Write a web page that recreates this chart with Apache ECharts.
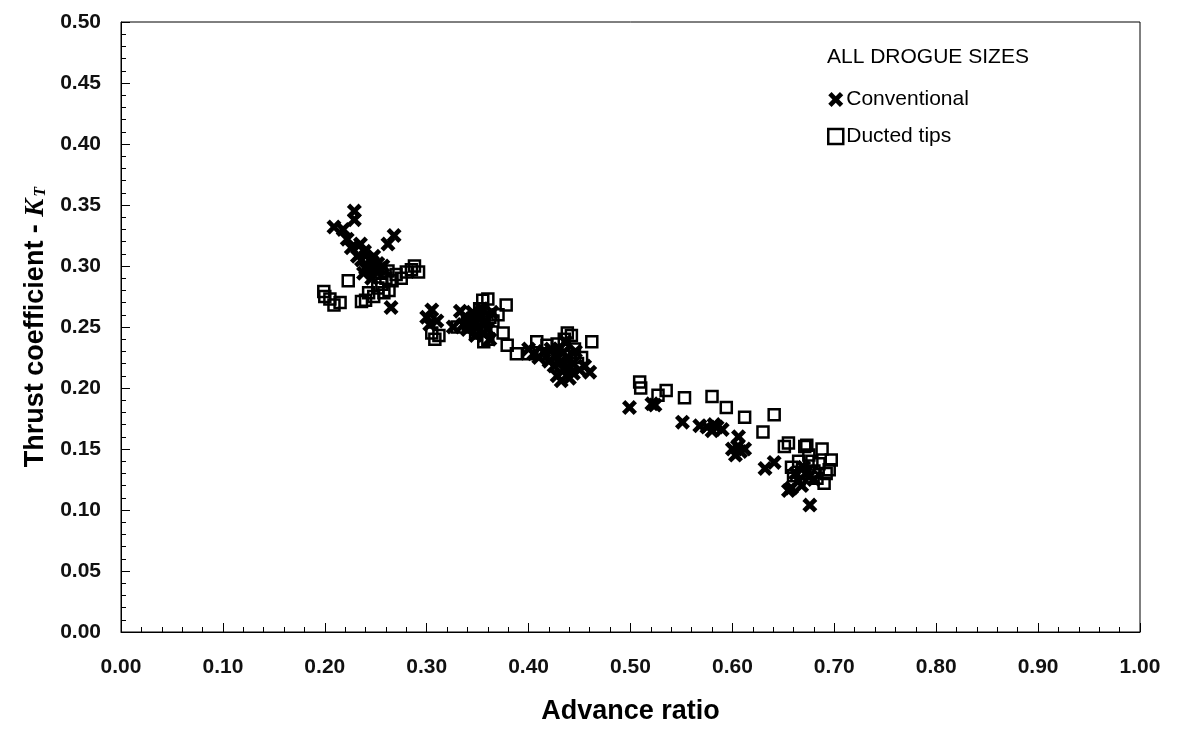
<!DOCTYPE html>
<html>
<head>
<meta charset="utf-8">
<script src="https://cdn.jsdelivr.net/npm/echarts@6/dist/echarts.min.js"></script>
<style>
html,body{margin:0;padding:0;background:#fff;}
#c{width:1184px;height:731px;}
</style>
</head>
<body>
<div id="c"></div>
<script>
// Data: [advance ratio, thrust coefficient]
const conventional = [
  [0.229,0.345],[0.229,0.338],[0.209,0.332],[0.218,0.330],[0.222,0.322],[0.226,0.315],
  [0.235,0.318],[0.239,0.312],[0.244,0.305],[0.248,0.308],[0.252,0.302],[0.257,0.300],
  [0.262,0.318],[0.268,0.325],[0.240,0.298],[0.236,0.305],[0.250,0.296],[0.265,0.266],
  [0.232,0.308],[0.246,0.290],[0.242,0.300],[0.247,0.303],[0.254,0.298],[0.238,0.294],
  [0.300,0.258],[0.305,0.264],[0.303,0.252],[0.310,0.255],[0.333,0.263],[0.338,0.258],
  [0.342,0.252],[0.347,0.255],[0.350,0.250],[0.352,0.260],[0.355,0.245],[0.358,0.255],
  [0.360,0.248],[0.345,0.262],[0.362,0.240],[0.326,0.250],[0.340,0.248],[0.348,0.243],
  [0.354,0.265],[0.357,0.252],[0.344,0.257],[0.336,0.252],[0.364,0.262],
  [0.400,0.232],[0.405,0.228],[0.410,0.225],[0.415,0.230],[0.420,0.222],[0.425,0.218],
  [0.428,0.210],[0.432,0.206],[0.435,0.215],[0.438,0.225],[0.440,0.208],[0.443,0.220],
  [0.446,0.230],[0.450,0.215],[0.455,0.218],[0.460,0.213],[0.430,0.232],[0.436,0.238],
  [0.426,0.226],[0.432,0.222],[0.438,0.217],[0.444,0.212],[0.422,0.232],[0.434,0.229],
  [0.499,0.184],[0.521,0.187],[0.524,0.186],[0.551,0.172],[0.568,0.169],[0.575,0.168],
  [0.580,0.165],[0.585,0.168],[0.590,0.166],[0.600,0.150],[0.603,0.145],[0.606,0.160],
  [0.608,0.148],[0.612,0.150],[0.632,0.134],[0.641,0.139],[0.655,0.116],[0.658,0.118],
  [0.665,0.124],[0.668,0.120],[0.672,0.130],[0.676,0.104],[0.680,0.125],[0.662,0.130],
  [0.582,0.170],[0.605,0.152],[0.670,0.135],[0.676,0.128]
];
const ductedTips = [
  [0.199,0.279],[0.200,0.275],[0.205,0.273],[0.209,0.268],[0.215,0.270],[0.223,0.288],
  [0.236,0.271],[0.240,0.272],[0.243,0.278],[0.248,0.275],[0.252,0.282],[0.256,0.285],
  [0.260,0.290],[0.263,0.280],[0.266,0.288],[0.270,0.293],[0.275,0.290],[0.280,0.295],
  [0.285,0.297],[0.288,0.300],[0.292,0.295],[0.255,0.295],[0.262,0.296],[0.258,0.278],
  [0.305,0.245],[0.308,0.240],[0.312,0.243],[0.330,0.250],[0.340,0.255],[0.355,0.272],
  [0.360,0.273],[0.356,0.238],[0.360,0.240],[0.365,0.255],[0.370,0.260],[0.375,0.245],
  [0.378,0.268],[0.379,0.235],[0.388,0.228],[0.348,0.245],[0.352,0.265],[0.345,0.250],
  [0.358,0.248],[0.362,0.258],[0.350,0.256],
  [0.400,0.228],[0.408,0.238],[0.418,0.235],[0.425,0.228],[0.430,0.225],[0.435,0.240],
  [0.438,0.245],[0.442,0.243],[0.445,0.232],[0.448,0.220],[0.452,0.225],[0.462,0.238],
  [0.432,0.218],[0.428,0.236],[0.440,0.226],[0.414,0.228],
  [0.509,0.205],[0.510,0.200],[0.527,0.194],[0.535,0.198],[0.553,0.192],[0.580,0.193],
  [0.594,0.184],[0.612,0.176],[0.630,0.164],[0.641,0.178],[0.651,0.152],[0.655,0.155],
  [0.658,0.135],[0.660,0.128],[0.665,0.140],[0.671,0.152],[0.673,0.153],[0.675,0.145],
  [0.680,0.132],[0.685,0.138],[0.688,0.150],[0.690,0.122],[0.692,0.130],[0.695,0.133],
  [0.697,0.141],[0.678,0.140],[0.668,0.130],[0.683,0.126]
];
const legendTitle = 'ALL DROGUE SIZES';
const seriesNames = ['Conventional', 'Ducted tips'];
const xAxisTitle = 'Advance ratio';

const XPATH = 'path://M0,2.2 L2.2,0 L5,2.8 L7.8,0 L10,2.2 L7.2,5 L10,7.8 L7.8,10 L5,7.2 L2.2,10 L0,7.8 L2.8,5 Z';
const FONT = '"Liberation Sans", Arial, sans-serif';

const chart = echarts.init(document.getElementById('c'), null, {renderer: 'canvas'});
chart.setOption({
  animation: false,
  backgroundColor: '#fff',
  grid: {left: 121, right: 44, top: 22, bottom: 99, show: true, borderColor: '#000', borderWidth: 1,
         containLabel: false, outerBoundsMode: 'none'},
  xAxis: {
    type: 'value', min: 0, max: 1, interval: 0.1,
    name: xAxisTitle, nameLocation: 'middle', nameGap: 66,
    nameTextStyle: {fontFamily: FONT, fontSize: 27, fontWeight: 'bold', color: '#000'},
    axisLine: {show: true, lineStyle: {color: '#000', width: 1}},
    axisTick: {show: true, inside: true, length: 9, lineStyle: {color: '#000'}},
    minorTick: {show: true, splitNumber: 5, length: 5, lineStyle: {color: '#000'}},
    axisLabel: {fontFamily: FONT, fontSize: 21, fontWeight: 'bold', color: '#111', margin: 25, formatter: v => v.toFixed(2)},
    splitLine: {show: false}
  },
  yAxis: {
    type: 'value', min: 0, max: 0.5, interval: 0.05,
    name: '{a|Thrust coefficient - }{k|K}{t|T}', nameLocation: 'middle', nameGap: 68, nameRotate: 90,
    nameTextStyle: {
      color: '#000',
      rich: {
        a: {fontFamily: FONT, fontSize: 27, fontWeight: 'bold', color: '#000'},
        k: {fontFamily: '"Liberation Serif", serif', fontSize: 27, fontWeight: 'bold', fontStyle: 'italic', color: '#000'},
        t: {fontFamily: '"Liberation Serif", serif', fontSize: 16, fontWeight: 'bold', fontStyle: 'italic', color: '#000', padding: [10, 0, 0, 2]}
      }
    },
    axisLine: {show: true, lineStyle: {color: '#000', width: 1}},
    axisTick: {show: true, inside: true, length: 9, lineStyle: {color: '#000'}},
    minorTick: {show: true, splitNumber: 5, length: 5, lineStyle: {color: '#000'}},
    axisLabel: {fontFamily: FONT, fontSize: 21, fontWeight: 'bold', color: '#111', margin: 20, formatter: v => v.toFixed(2)},
    splitLine: {show: false}
  },
  legend: {
    orient: 'vertical', left: 822, top: 84, itemGap: 16, itemWidth: 15, itemHeight: 15,
    textStyle: {fontFamily: FONT, fontSize: 21, color: '#000', padding: [0, 0, 0, -2]},
    data: [
      {name: seriesNames[0], icon: XPATH},
      {name: seriesNames[1], icon: 'rect', itemStyle: {color: '#fff', borderColor: '#000', borderWidth: 2.5}}
    ]
  },
  graphic: [{
    type: 'text', left: 827, top: 47,
    style: {text: legendTitle, font: '21px "Liberation Sans", Arial, sans-serif', fill: '#000'}
  }],
  series: [
    {
      name: seriesNames[0], type: 'scatter', data: conventional,
      symbol: XPATH, symbolSize: 15,
      itemStyle: {color: '#000', opacity: 1}
    },
    {
      name: seriesNames[1], type: 'scatter', data: ductedTips,
      symbol: 'rect', symbolSize: 11,
      itemStyle: {color: 'rgba(255,255,255,0)', borderColor: '#000', borderWidth: 2.5, opacity: 1}
    }
  ]
});
</script>
</body>
</html>
